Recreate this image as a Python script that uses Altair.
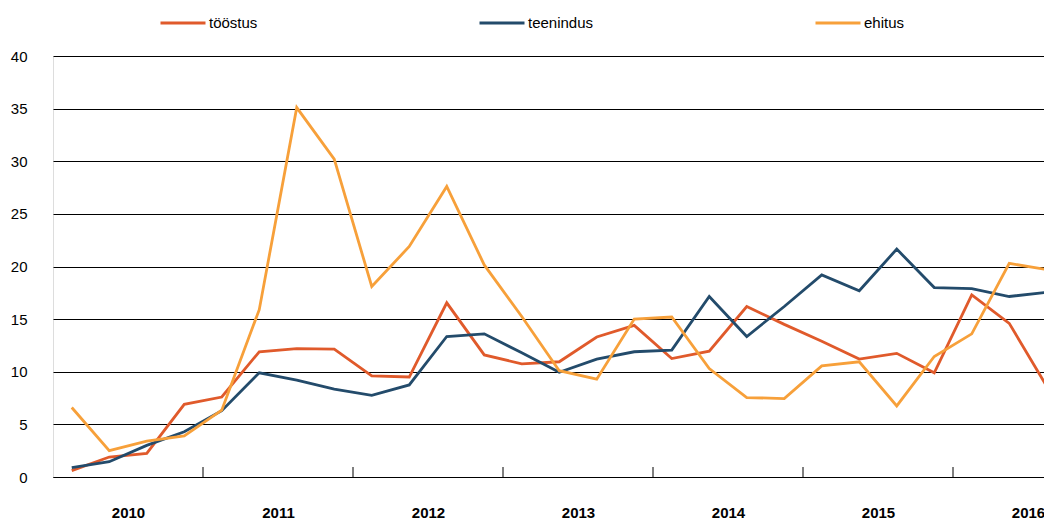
import altair as alt
import pandas as pd

series_names = ["tööstus", "teenindus", "ehitus"]
series_colors = ["#E05A2B", "#234B6B", "#F7A03A"]

years = [2010, 2011, 2012, 2013, 2014, 2015, 2016]
# quarterly points 2010 Q1 .. 2016 Q3
toostus = [0.6, 1.9, 2.25, 6.9, 7.6, 11.9, 12.2, 12.15, 9.6, 9.5, 16.55, 11.6, 10.75, 10.95,
           13.3, 14.4, 11.25, 11.95, 16.2, 14.5, 12.9, 11.2, 11.75, 9.9, 17.3, 14.6, 8.6]
teenindus = [0.9, 1.45, 3.0, 4.3, 6.3, 9.9, 9.2, 8.35, 7.75, 8.75, 13.35, 13.6, 11.8, 9.95,
             11.2, 11.9, 12.05, 17.15, 13.35, 16.2, 19.2, 17.7, 21.65, 18.0, 17.9, 17.15, 17.55]
ehitus = [6.6, 2.5, 3.4, 3.9, 6.35, 15.9, 35.1, 30.2, 18.1, 21.9, 27.6, 20.15, 15.25, 10.1,
          9.3, 15.0, 15.2, 10.3, 7.55, 7.45, 10.55, 10.95, 6.75, 11.45, 13.6, 20.3, 19.7]

rows = []
for name, vals in zip(series_names, [toostus, teenindus, ehitus]):
    for i, v in enumerate(vals):
        rows.append({"q": i + 0.5, "value": v, "series": name})
df = pd.DataFrame(rows)

year_mid = [4 * k + 2 for k in range(len(years))]
boundaries = pd.DataFrame({"b": [4 * k for k in range(1, len(years))]})

W = 991
H = 421
QMAX = W / 37.5

xscale = alt.Scale(domain=[0, QMAX], nice=False, zero=False)
yscale = alt.Scale(domain=[0, 40], nice=False)

lines = alt.Chart(df).mark_line(strokeWidth=2.8, clip=True).encode(
    x=alt.X("q:Q", scale=xscale,
            axis=alt.Axis(values=year_mid, labelExpr="2010 + floor(datum.value / 4)",
                          ticks=False, grid=False, domain=True, domainColor="#000000",
                          domainWidth=1, labelFontWeight="bold", labelFontSize=15,
                          labelPadding=28, labelColor="#000000", title=None,
                          labelFont="Liberation Sans")),
    y=alt.Y("value:Q", scale=yscale,
            axis=alt.Axis(values=[0, 5, 10, 15, 20, 25, 30, 35, 40], ticks=False, domain=False,
                          grid=True, gridColor="#000000", gridWidth=1, labelFontSize=15,
                          labelPadding=26, labelColor="#000000", title=None,
                          labelFont="Liberation Sans")),
    color=alt.Color("series:N",
                    scale=alt.Scale(domain=series_names, range=series_colors),
                    sort=series_names,
                    legend=alt.Legend(orient="none", legendX=106, legendY=-57,
                                      direction="horizontal", title=None,
                                      symbolType="stroke", symbolSize=2025,
                                      symbolStrokeWidth=3, labelFontSize=15,
                                      labelFont="Liberation Sans", labelColor="#000000",
                                      labelOffset=2, columnPadding=215, gridAlign="none",
                                      labelLimit=300)),
)

ticks = alt.Chart(boundaries).mark_rule(color="#000000", strokeWidth=1).encode(
    x=alt.X("b:Q", scale=xscale),
    y=alt.value(H),
    y2=alt.value(H - 10),
)

chart = alt.layer(lines, ticks).properties(
    width=W, height=H,
    autosize=alt.AutoSizeParams(type="none"),
    padding={"left": 45, "top": 48, "right": 0, "bottom": 42},
).configure_view(stroke=None).configure(background="#ffffff")

chart.save("out.html", embed_options={"renderer": "svg", "actions": False})
